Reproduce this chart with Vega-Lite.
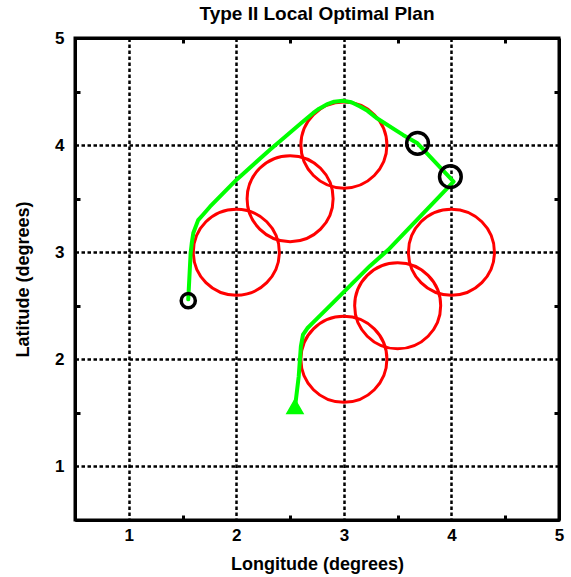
{
  "$schema": "https://vega.github.io/schema/vega-lite/v6.json",
  "width": 484,
  "height": 482,
  "autosize": "none",
  "padding": {"left": 75, "top": 38, "right": 12, "bottom": 57},
  "background": "white",
  "title": {
    "text": "Type II Local Optimal Plan",
    "font": "Liberation Sans",
    "fontSize": 19,
    "fontWeight": "bold",
    "color": "black",
    "anchor": "middle",
    "offset": 5
  },
  "config": {
    "view": {"stroke": "black", "strokeWidth": 3}
  },
  "datasets": {
    "circles": [
      {"x": 2, "y": 3}, {"x": 2.5, "y": 3.5}, {"x": 3, "y": 4},
      {"x": 3, "y": 2}, {"x": 3.5, "y": 2.5}, {"x": 4, "y": 3}
    ],
    "path": [
      {"i": 1, "x": 2.55, "y": 1.59},
      {"i": 2, "x": 2.58, "y": 1.84},
      {"i": 3, "x": 2.60, "y": 2.12},
      {"i": 4, "x": 2.62, "y": 2.23},
      {"i": 5, "x": 2.66, "y": 2.29},
      {"i": 6, "x": 2.71, "y": 2.34},
      {"i": 7, "x": 2.90, "y": 2.53},
      {"i": 8, "x": 3.07, "y": 2.70},
      {"i": 9, "x": 3.24, "y": 2.87},
      {"i": 10, "x": 3.41, "y": 3.02},
      {"i": 11, "x": 4.02, "y": 3.66},
      {"i": 12, "x": 3.68, "y": 4.02},
      {"i": 13, "x": 3.55, "y": 4.095},
      {"i": 14, "x": 3.30, "y": 4.255},
      {"i": 15, "x": 3.22, "y": 4.32},
      {"i": 16, "x": 3.15, "y": 4.36},
      {"i": 17, "x": 3.07, "y": 4.40},
      {"i": 18, "x": 2.99, "y": 4.415},
      {"i": 19, "x": 2.91, "y": 4.405},
      {"i": 20, "x": 2.84, "y": 4.38},
      {"i": 21, "x": 2.77, "y": 4.34},
      {"i": 22, "x": 2.715, "y": 4.30},
      {"i": 23, "x": 2.62, "y": 4.22},
      {"i": 24, "x": 2.31, "y": 3.955},
      {"i": 25, "x": 2.00, "y": 3.675},
      {"i": 26, "x": 1.755, "y": 3.425},
      {"i": 27, "x": 1.69, "y": 3.35},
      {"i": 28, "x": 1.645, "y": 3.30},
      {"i": 29, "x": 1.60, "y": 3.18},
      {"i": 30, "x": 1.585, "y": 3.08},
      {"i": 31, "x": 1.575, "y": 2.99},
      {"i": 32, "x": 1.553, "y": 2.56}
    ],
    "waypoints": [
      {"x": 1.553, "y": 2.548, "kind": "small"},
      {"x": 3.685, "y": 4.017, "kind": "big"},
      {"x": 3.99, "y": 3.705, "kind": "big"}
    ],
    "start": [
      {"x": 2.545, "y": 1.56}
    ]
  },
  "layer": [
    {
      "data": {"name": "circles"},
      "mark": {"type": "point", "shape": "circle", "filled": false, "stroke": "#ff0000", "strokeWidth": 3, "size": 7400, "opacity": 1},
      "encoding": {
        "x": {
          "field": "x", "type": "quantitative",
          "scale": {"domain": [0.5, 5], "nice": false, "zero": false},
          "axis": {
            "orient": "bottom",
            "values": [0.5, 1, 1.5, 2, 2.5, 3, 3.5, 4, 4.5, 5],
            "labelExpr": "datum.value % 1 === 0 ? format(datum.value, 'd') : ''",
            "labelFlush": false, "labelOverlap": false, "labelBound": false,
            "grid": true, "gridColor": "black", "gridDash": [3.5, 2.5], "gridWidth": 2.5,
            "gridOpacity": {"condition": {"test": "datum.value % 1 === 0 && datum.value < 5", "value": 1}, "value": 0},
            "ticks": true, "tickSize": -5, "tickWidth": 3, "tickColor": "black",
            "tickOpacity": {"condition": {"test": "datum.value % 1 === 0", "value": 0}, "value": 1},
            "domain": true, "domainColor": "black", "domainWidth": 3,
            "labelFont": "Liberation Sans", "labelFontSize": 17, "labelFontWeight": "bold", "labelColor": "black", "labelPadding": 12,
            "title": "Longitude (degrees)", "titleFont": "Liberation Sans", "titleFontSize": 18, "titleFontWeight": "bold", "titleColor": "black", "titlePadding": 12
          }
        },
        "y": {
          "field": "y", "type": "quantitative",
          "scale": {"domain": [0.5, 5], "nice": false, "zero": false},
          "axis": {
            "orient": "left",
            "values": [0.5, 1, 1.5, 2, 2.5, 3, 3.5, 4, 4.5, 5],
            "labelExpr": "datum.value % 1 === 0 ? format(datum.value, 'd') : ''",
            "labelFlush": false, "labelOverlap": false, "labelBound": false,
            "grid": true, "gridColor": "black", "gridDash": [3.5, 2.5], "gridWidth": 2.5,
            "gridOpacity": {"condition": {"test": "datum.value % 1 === 0 && datum.value < 5", "value": 1}, "value": 0},
            "ticks": true, "tickSize": -5, "tickWidth": 3, "tickColor": "black",
            "tickOpacity": {"condition": {"test": "datum.value % 1 === 0", "value": 0}, "value": 1},
            "domain": true, "domainColor": "black", "domainWidth": 3,
            "labelFont": "Liberation Sans", "labelFontSize": 17, "labelFontWeight": "bold", "labelColor": "black", "labelPadding": 16,
            "title": "Latitude (degrees)", "titleFont": "Liberation Sans", "titleFontSize": 18, "titleFontWeight": "bold", "titleColor": "black", "titlePadding": 22
          }
        }
      }
    },
    {
      "data": {"name": "path"},
      "mark": {"type": "line", "color": "#00ff00", "strokeWidth": 4, "strokeJoin": "round", "strokeCap": "round"},
      "encoding": {
        "x": {
          "field": "x", "type": "quantitative",
          "scale": {"domain": [0.5, 5], "nice": false, "zero": false},
          "axis": {
            "orient": "top",
            "values": [0.5, 1.5, 2.5, 3.5, 4.5],
            "labels": false, "grid": false, "title": null,
            "ticks": true, "tickSize": -5, "tickWidth": 3, "tickColor": "black",
            "domain": true, "domainColor": "black", "domainWidth": 3
          }
        },
        "y": {
          "field": "y", "type": "quantitative",
          "scale": {"domain": [0.5, 5], "nice": false, "zero": false},
          "axis": {
            "orient": "right",
            "values": [0.5, 1.5, 2.5, 3.5, 4.5],
            "labels": false, "grid": false, "title": null,
            "ticks": true, "tickSize": -5, "tickWidth": 3, "tickColor": "black",
            "domain": true, "domainColor": "black", "domainWidth": 3
          }
        },
        "order": {"field": "i", "type": "quantitative"}
      }
    },
    {
      "data": {"name": "waypoints"},
      "mark": {"type": "point", "shape": "circle", "filled": false, "stroke": "black", "strokeWidth": 3.5, "opacity": 1},
      "encoding": {
        "x": {"field": "x", "type": "quantitative", "axis": null, "scale": {"domain": [0.5, 5], "nice": false, "zero": false}},
        "y": {"field": "y", "type": "quantitative", "axis": null, "scale": {"domain": [0.5, 5], "nice": false, "zero": false}},
        "size": {"field": "kind", "type": "nominal", "scale": {"domain": ["small", "big"], "range": [200, 470]}, "legend": null}
      }
    },
    {
      "data": {"name": "start"},
      "mark": {"type": "point", "shape": "triangle-up", "filled": true, "fill": "#00ff00", "stroke": "#00ff00", "strokeWidth": 1.5, "size": 260, "opacity": 1},
      "encoding": {
        "x": {"field": "x", "type": "quantitative", "axis": null, "scale": {"domain": [0.5, 5], "nice": false, "zero": false}},
        "y": {"field": "y", "type": "quantitative", "axis": null, "scale": {"domain": [0.5, 5], "nice": false, "zero": false}}
      }
    }
  ],
  "resolve": {"axis": {"x": "independent", "y": "independent"}}
}
